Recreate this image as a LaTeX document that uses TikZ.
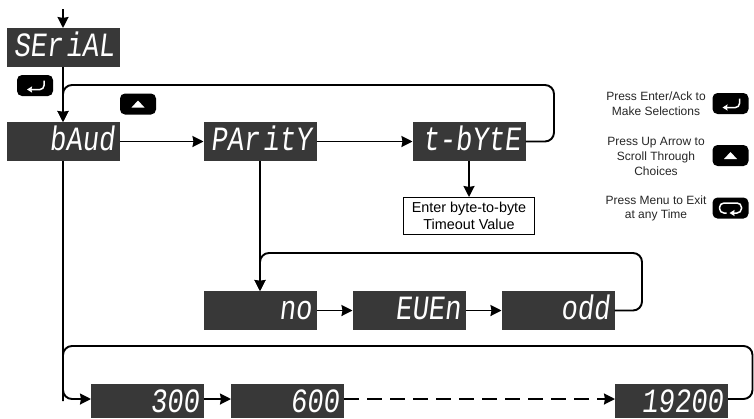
\documentclass[tikz,border=0pt]{standalone}
\usepackage{fontspec}
\usetikzlibrary{positioning,arrows.meta}
\setmainfont{Liberation Sans}
\newfontfamily\dispfont[FakeStretch=0.8,FakeSlant=0.12]{Liberation Mono}
\newcommand{\dispsize}{\dispfont\fontsize{34pt}{34pt}\selectfont}

\tikzset{
  display/.style = {shape=rectangle, fill=black!78, text=white, minimum width=113pt,
    minimum height=39pt, inner sep=0pt, outer sep=0pt, align=right, text width=103pt,
    text height=23pt, text depth=6pt, font=\dispsize,
    execute at begin node={\spaceskip=3pt\relax}},
  cutdisplay/.style = {display, minimum height=34pt, text depth=0pt},
  entrybox/.style = {shape=rectangle, draw, line width=1pt, fill=white, minimum width=131pt,
    minimum height=37pt, inner sep=0pt, align=center, font=\fontsize{14.4pt}{17pt}\selectfont},
  legend/.style = {align=center, inner sep=0pt, text=black!85, font=\fontsize{12pt}{14.6pt}\selectfont},
  keybox/.style = {shape=rectangle, rounded corners=5pt, fill=black, minimum width=36pt,
    minimum height=21pt, inner sep=0pt},
  flow/.style = {line width=1.9pt, -{Stealth[length=11pt,width=11pt,inset=1pt]}},
  loopflow/.style = {flow, rounded corners=9pt},
  keyline/.style = {white, line width=1.5pt, -{Stealth[length=5pt,width=6pt,inset=0.5pt]}},
  enterglyph/.pic = {\draw[keyline, rounded corners=4pt] (9,-5) -- (9,4) -- (-8,4);},
  upglyph/.pic = {\fill[white] (-6.5,3.5) -- (6.5,3.5) -- (0,-3.5) -- cycle;},
  menuglyph/.pic = {\draw[keyline, rounded corners=4.5pt] (-4,5) -- (-11,5) -- (-11,-5) -- (11,-5) -- (11,5) -- (-1,5);}
}

\begin{document}
\begin{tikzpicture}[x=1pt, y=-1pt]
  \useasboundingbox (0,0) rectangle (754,418);

  % displays
  \node[display] (serial) at (63,47.5) {SEr iAL};
  \node[display, below=55pt of serial] (baud) {bAud};
  \node[display, right=84pt of baud] (parity) {PAr itY};
  \node[display, right=96pt of parity] (tbyte) {t-bYtE};
  \node[entrybox, below=36pt of tbyte] (timeout) {Enter byte-to-byte\\Timeout Value};

  \node[display, below=130pt of parity] (no) {no};
  \node[display, right=36pt of no] (even) {EUEn};
  \node[display, right=36pt of even] (odd) {odd};

  \node[cutdisplay] (b300) at (147.5,401) {300};
  \node[cutdisplay, right=27pt of b300] (b600) {600};
  \node[cutdisplay, right=271pt of b600] (b19200) {19200};

  % free ends of the lines
  \coordinate (entry) at (63,9);
  \coordinate (tbyteloop) at (554,85);
  \coordinate (oddloop) at (642,253);
  \coordinate (baudloop) at (752.5,346);

  % main flow
  \draw[flow] (entry) -- (serial);
  \draw[flow] (serial) -- (baud);
  \draw[flow] (baud) -- (parity);
  \draw[flow] (parity) -- (tbyte);
  \draw[flow] (tbyte) -- (timeout);
  \draw[flow] (parity) -- (no);
  \draw[flow] (no) -- (even);
  \draw[flow] (even) -- (odd);
  \draw[flow] ([yshift=2pt]b300.east) -- ([yshift=2pt]b600.west);
  \draw[flow, dash pattern=on 15pt off 8pt] ([yshift=2pt]b600.east) -- ([yshift=2pt]b19200.west);
  \draw[loopflow] (baud.south) |- ([yshift=2pt]b300.west);

  % return loops
  \draw[loopflow] (tbyte.east) -| (tbyteloop) -- (tbyteloop -| baud) -- (baud.north);
  \draw[loopflow] (odd.east) -| (oddloop) -- (oddloop -| no) -- (no.north);
  \draw[line width=1.9pt, rounded corners=9pt] ([yshift=2pt]b19200.east) -| (baudloop) -- (baudloop -| baud) -- (b300.west -| baud);

  % keys on the flow
  \node[keybox] (enterkey) at (35,85.5) {};
  \pic at (enterkey) {enterglyph};
  \node[keybox] (upkey) at (138,104) {};
  \pic at (upkey) {upglyph};

  % legend
  \node[legend] (enterlabel) at (656,103.5) {Press Enter/Ack to\\Make Selections};
  \node[keybox] (enterside) at (730.5,103.5) {};
  \pic at (enterside) {enterglyph};
  \node[legend] (uplabel) at (656,156.5) {Press Up Arrow to\\Scroll Through\\Choices};
  \node[keybox] (upside) at (730.5,155.5) {};
  \pic at (upside) {upglyph};
  \node[legend] (menulabel) at (656,208.5) {Press Menu to Exit\\at any Time};
  \node[keybox] (menuside) at (730.5,208) {};
  \pic at (menuside) {menuglyph};
\end{tikzpicture}
\end{document}
